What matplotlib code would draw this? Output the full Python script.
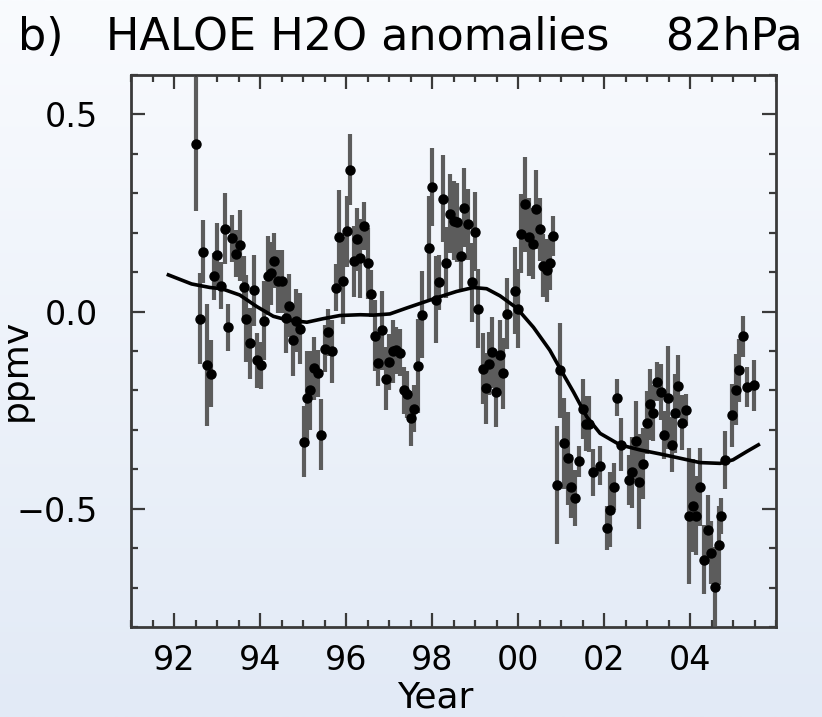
import numpy as np
import matplotlib
matplotlib.use("Agg")
import matplotlib.pyplot as plt
from matplotlib.ticker import MultipleLocator, FixedLocator, FuncFormatter

# HALOE monthly H2O anomalies at 82 hPa (ppmv) with 1-sigma bars
years = [
    1992.51, 1992.60, 1992.68, 1992.77, 1992.85, 1992.93, 1993.01, 1993.10,
    1993.19, 1993.26, 1993.36, 1993.44, 1993.53, 1993.62, 1993.68, 1993.76,
    1993.85, 1993.94, 1994.02, 1994.10, 1994.19, 1994.26, 1994.33, 1994.43,
    1994.51, 1994.60, 1994.68, 1994.77, 1994.84, 1994.93, 1995.02, 1995.09,
    1995.17, 1995.26, 1995.34, 1995.43, 1995.51, 1995.59, 1995.68, 1995.76,
    1995.84, 1995.93, 1996.02, 1996.10, 1996.18, 1996.25, 1996.33, 1996.42,
    1996.50, 1996.58, 1996.67, 1996.75, 1996.84, 1996.92, 1997.00, 1997.09,
    1997.17, 1997.26, 1997.34, 1997.42, 1997.51, 1997.59, 1997.67, 1997.76,
    1997.92, 1998.00, 1998.09, 1998.16, 1998.25, 1998.33, 1998.42, 1998.50,
    1998.59, 1998.67, 1998.75, 1998.83, 1998.92, 1999.00, 1999.08, 1999.18,
    1999.25, 1999.33, 1999.40, 1999.49, 1999.58, 1999.66, 1999.74, 1999.93,
    2000.01, 2000.08, 2000.16, 2000.26, 2000.34, 2000.42, 2000.50, 2000.59,
    2000.67, 2000.74, 2000.82, 2000.91, 2000.98, 2001.07, 2001.16, 2001.24,
    2001.33, 2001.42, 2001.50, 2001.58, 2001.66, 2001.74, 2001.91, 2002.06,
    2002.15, 2002.24, 2002.31, 2002.40, 2002.57, 2002.65, 2002.74, 2002.82,
    2002.90, 2002.99, 2003.07, 2003.15, 2003.24, 2003.32, 2003.40, 2003.49,
    2003.57, 2003.64, 2003.73, 2003.82, 2003.90, 2003.98, 2004.06, 2004.15,
    2004.23, 2004.32, 2004.41, 2004.48, 2004.57, 2004.67, 2004.72, 2004.81,
    2004.98, 2005.07, 2005.14, 2005.24, 2005.32, 2005.49,
]
anom = [
    0.425, -0.018, 0.152, -0.136, -0.158, 0.089, 0.144, 0.066,
    0.210, -0.040, 0.186, 0.147, 0.168, 0.062, -0.018, -0.080,
    0.054, -0.124, -0.136, -0.023, 0.091, 0.097, 0.129, 0.077,
    0.077, -0.016, 0.015, -0.073, -0.023, -0.044, -0.330, -0.220,
    -0.200, -0.144, -0.157, -0.313, -0.094, -0.053, -0.101, 0.061,
    0.189, 0.078, 0.204, 0.360, 0.127, 0.183, 0.135, 0.217,
    0.123, 0.045, -0.061, -0.130, -0.048, -0.170, -0.128, -0.101,
    -0.098, -0.104, -0.200, -0.210, -0.271, -0.246, -0.138, -0.008,
    0.162, 0.316, 0.030, 0.074, 0.286, 0.124, 0.248, 0.230,
    0.226, 0.141, 0.263, 0.221, 0.074, 0.203, 0.007, -0.145,
    -0.195, -0.132, -0.103, -0.204, -0.111, -0.156, -0.006, 0.053,
    0.007, 0.198, 0.272, 0.189, 0.172, 0.259, 0.209, 0.116,
    0.105, 0.124, 0.192, -0.440, -0.149, -0.334, -0.372, -0.444,
    -0.473, -0.380, -0.246, -0.284, -0.285, -0.408, -0.391, -0.549,
    -0.503, -0.444, -0.218, -0.338, -0.427, -0.408, -0.328, -0.431,
    -0.386, -0.282, -0.235, -0.257, -0.178, -0.204, -0.313, -0.218,
    -0.338, -0.258, -0.189, -0.282, -0.250, -0.518, -0.492, -0.518,
    -0.445, -0.629, -0.553, -0.612, -0.698, -0.593, -0.519, -0.376,
    -0.263, -0.198, -0.149, -0.063, -0.191, -0.187,
]
sigma = [
    0.170, 0.115, 0.080, 0.155, 0.085, 0.060, 0.080, 0.060,
    0.090, 0.060, 0.060, 0.060, 0.090, 0.080, 0.110, 0.090,
    0.090, 0.070, 0.060, 0.100, 0.100, 0.080, 0.070, 0.080,
    0.080, 0.090, 0.080, 0.090, 0.080, 0.090, 0.090, 0.120,
    0.100, 0.080, 0.060, 0.090, 0.060, 0.060, 0.080, 0.060,
    0.120, 0.110, 0.090, 0.090, 0.090, 0.080, 0.100, 0.060,
    0.090, 0.060, 0.090, 0.060, 0.100, 0.080, 0.070, 0.080,
    0.060, 0.060, 0.060, 0.060, 0.070, 0.060, 0.120, 0.110,
    0.130, 0.100, 0.110, 0.070, 0.110, 0.090, 0.100, 0.100,
    0.100, 0.090, 0.100, 0.090, 0.100, 0.100, 0.100, 0.090,
    0.090, 0.080, 0.090, 0.090, 0.090, 0.090, 0.090, 0.110,
    0.100, 0.100, 0.120, 0.100, 0.090, 0.100, 0.080, 0.080,
    0.080, 0.070, 0.050, 0.150, 0.120, 0.115, 0.118, 0.080,
    0.070, 0.040, 0.076, 0.070, 0.070, 0.060, 0.050, 0.055,
    0.095, 0.060, 0.046, 0.067, 0.063, 0.090, 0.100, 0.120,
    0.090, 0.080, 0.090, 0.070, 0.050, 0.070, 0.060, 0.130,
    0.070, 0.100, 0.080, 0.070, 0.040, 0.172, 0.117, 0.100,
    0.100, 0.088, 0.088, 0.080, 0.100, 0.100, 0.046, 0.074,
    0.080, 0.090, 0.080, 0.053, 0.050, 0.065,
]

# smooth fit through the anomaly series
fit_years = [
    1991.87, 1992.41, 1992.84, 1993.11, 1993.53, 1993.92, 1994.31, 1994.62,
    1995.09, 1995.47, 1995.86, 1996.33, 1996.64, 1997.02, 1997.41, 1998.11,
    1998.57, 1998.96, 1999.27, 1999.58, 1999.97, 2000.36, 2000.74, 2000.98,
    2001.29, 2001.60, 2001.91, 2002.37, 2002.84, 2003.30, 2003.77, 2004.23,
    2004.70, 2005.00, 2005.32, 2005.59,
]
fit_vals = [
    0.093, 0.070, 0.061, 0.058, 0.042, 0.013, -0.012, -0.021,
    -0.027, -0.018, -0.010, -0.008, -0.009, -0.006, 0.009, 0.035,
    0.051, 0.061, 0.058, 0.040, 0.009, -0.040, -0.098, -0.145,
    -0.204, -0.267, -0.309, -0.338, -0.351, -0.361, -0.372, -0.383,
    -0.385, -0.376, -0.355, -0.338,
]

year_ticks = [1992, 1994, 1996, 1998, 2000, 2002, 2004]

W, H = 822, 717
fig = plt.figure(figsize=(W / 100, H / 100), dpi=100)

# soft vertical background gradient
bg = fig.add_axes([0, 0, 1, 1], zorder=-10)
top = np.array([249, 251, 254]) / 255.0
bot = np.array([226, 234, 246]) / 255.0
t = np.linspace(0, 1, 256)[:, None]
grad = (top[None, :] * (1 - t) + bot[None, :] * t)[:, None, :]
bg.imshow(grad, aspect="auto", extent=[0, 1, 0, 1])
bg.axis("off")

ax = fig.add_axes([131 / W, 1 - 627 / H, (776 - 131) / W, (627 - 75) / H])
ax.patch.set_alpha(0)

ax.errorbar(years, anom, yerr=sigma, fmt="o", color="black", ms=6.5,
            ecolor="#5c5c5c", elinewidth=3.0, capsize=0, zorder=3)
ax.plot(fit_years, fit_vals, color="black", lw=2.6, zorder=4)

ax.set_xlim(1991, 2006)
ax.set_ylim(-0.8, 0.6)

ax.xaxis.set_major_locator(FixedLocator(year_ticks))
ax.xaxis.set_minor_locator(MultipleLocator(0.5))
ax.yaxis.set_major_locator(MultipleLocator(0.5))
ax.yaxis.set_minor_locator(MultipleLocator(0.1))
ax.xaxis.set_major_formatter(FuncFormatter(lambda v, p: f"{int(round(v)) % 100:02d}"))
ax.yaxis.set_major_formatter(FuncFormatter(lambda v, p: f"{v:.1f}".replace("-", "\u2212")))

for s in ax.spines.values():
    s.set_linewidth(2)
    s.set_color("#3a3a3a")
ax.tick_params(which="both", direction="in", top=True, right=True,
               color="#3a3a3a", width=1.6)
ax.tick_params(which="major", length=10)
ax.tick_params(which="minor", length=5)
ax.tick_params(axis="x", which="major", labelsize=24, pad=12)
ax.tick_params(axis="y", which="major", labelsize=24, pad=24)

ax.set_xlabel("Year", fontsize=26)
ax.xaxis.set_label_coords((435 - 131) / 645, (627 - 680) / 552)
ax.set_ylabel("ppmv", fontsize=26)
ax.yaxis.set_label_coords((33 - 131) / 645, (627 - 370) / 552)

fig.text(18 / W, 1 - 38 / H, "b)   HALOE H2O anomalies    82hPa",
         fontsize=32, ha="left", va="center")

fig.savefig("out.png", dpi=100)
